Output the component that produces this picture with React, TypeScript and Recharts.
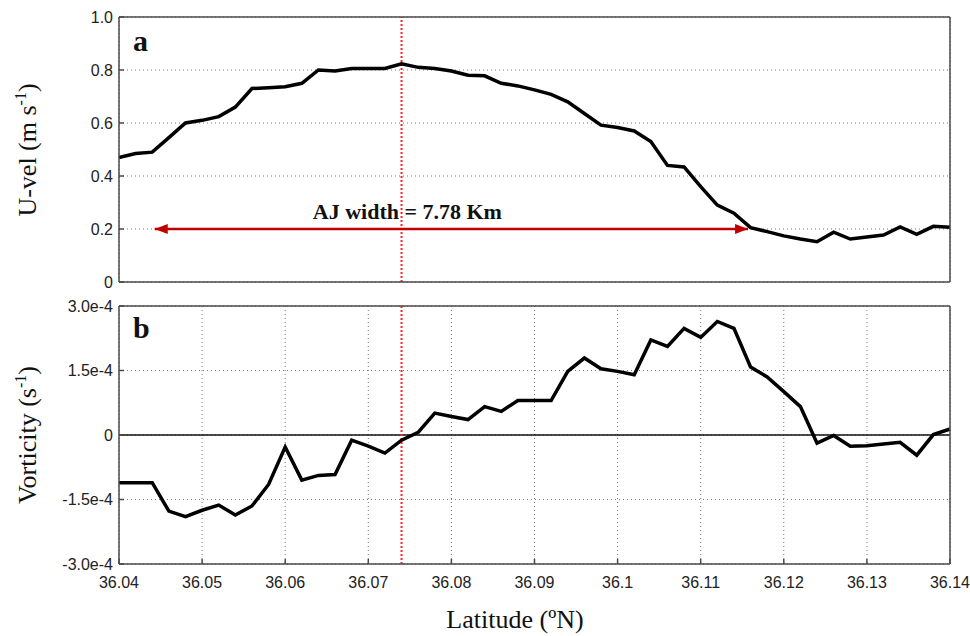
import {
  LineChart,
  Line,
  XAxis,
  YAxis,
  CartesianGrid,
  ReferenceLine,
  ReferenceDot,
} from "recharts";

// latitude (ºN) of each sample
const latitudes = [
  36.04, 36.042, 36.044, 36.046, 36.048, 36.05, 36.052, 36.054, 36.056, 36.058,
  36.06, 36.062, 36.064, 36.066, 36.068, 36.07, 36.072, 36.074, 36.076, 36.078,
  36.08, 36.082, 36.084, 36.086, 36.088, 36.09, 36.092, 36.094, 36.096, 36.098,
  36.1, 36.102, 36.104, 36.106, 36.108, 36.11, 36.112, 36.114, 36.116, 36.118,
  36.12, 36.122, 36.124, 36.126, 36.128, 36.13, 36.132, 36.134, 36.136, 36.138,
  36.14,
];

// U-vel (m/s)
const uVel = [
  0.47, 0.485, 0.49, 0.545, 0.6, 0.61, 0.624, 0.66, 0.73, 0.733,
  0.737, 0.75, 0.8, 0.796, 0.806, 0.806, 0.806, 0.823, 0.81, 0.806,
  0.796, 0.78, 0.778, 0.75, 0.74, 0.725, 0.708, 0.68, 0.636, 0.592,
  0.583, 0.57, 0.53, 0.44, 0.434, 0.36, 0.29, 0.26, 0.205, 0.19,
  0.174, 0.162, 0.152, 0.188, 0.162, 0.17, 0.177, 0.208, 0.18, 0.21,
  0.207,
];

// vorticity, in units of 1e-4 s^-1
const vorticity = [
  -1.11, -1.11, -1.11, -1.77, -1.9, -1.75, -1.63, -1.86, -1.65, -1.15,
  -0.28, -1.05, -0.94, -0.92, -0.12, -0.26, -0.42, -0.12, 0.06, 0.51,
  0.43, 0.36, 0.66, 0.55, 0.8, 0.8, 0.8, 1.48, 1.79, 1.54,
  1.48, 1.4, 2.21, 2.06, 2.48, 2.27, 2.64, 2.48, 1.58, 1.35,
  1.01, 0.66, -0.19, -0.01, -0.26, -0.25, -0.21, -0.17, -0.47, 0.01,
  0.14,
];

const xTicks = [36.04, 36.05, 36.06, 36.07, 36.08, 36.09, 36.1, 36.11, 36.12, 36.13, 36.14];
const uTicks = [0, 0.2, 0.4, 0.6, 0.8, 1.0];
const vortTicks = [-3, -1.5, 0, 1.5, 3];
const vortTickLabels = ["-3.0e-4", "-1.5e-4", "0", "1.5e-4", "3.0e-4"];

// jet core latitude and jet width markers
const jetCoreLat = 36.074;
const jetEdges = [36.0443, 36.1157];
const jetEdgeVel = 0.2;
const jetLabelLat = 36.0747;
const jetLabel = "AJ width = 7.78 Km";

const rows = latitudes.map((lat, i) => ({ lat, u: uVel[i], vort: vorticity[i] }));
const arrowRows = jetEdges.map((lat) => ({ lat, w: jetEdgeVel }));

const W = 970;
const FRAME = "#4a4a4a";
const GRID = "#7a7a7a";
const SANS = "'Liberation Sans', Arial, sans-serif";
const SERIF = "'Liberation Serif', 'Times New Roman', serif";

const tickStyle = { fontSize: 16, fill: "#222", fontFamily: SANS };
const axisLine = { stroke: FRAME, strokeWidth: 1.5 };

const yTitle = (main: string, sup: string, cy: number) => () => (
  <text
    x={36}
    y={cy}
    transform={`rotate(-90, 36, ${cy})`}
    textAnchor="middle"
    fontFamily={SERIF}
    fontSize={26}
    fill="#111"
  >
    {main}
    <tspan dy={-10} fontSize={16}>
      {sup}
    </tspan>
    <tspan dy={10}>)</tspan>
  </text>
);

const panelTag = (letter: string, y: number) => () => (
  <text x={133} y={y} fontFamily={SERIF} fontWeight="bold" fontSize={30} fill="#111">
    {letter}
  </text>
);

const ArrowHead = (props: any) => {
  const { cx, cy, index } = props;
  if (cx == null || cy == null) return null;
  const dir = index === 0 ? 1 : -1;
  return (
    <path
      key={`ah-${index}`}
      d={`M${cx},${cy} L${cx + dir * 13},${cy - 5} L${cx + dir * 13},${cy + 5} Z`}
      fill="#c00000"
      stroke="none"
    />
  );
};

const App = () => {
  return (
    <div style={{ position: "absolute", left: 0, top: 0, width: W, height: 636, background: "#fff" }}>
      {/* panel a */}
      <div style={{ position: "absolute", left: 0, top: 0 }}>
        <LineChart width={W} height={290} data={rows} margin={{ top: 16, right: 19, bottom: 7, left: 10 }}>
          <CartesianGrid stroke={GRID} strokeDasharray="1 3" />
          <XAxis
            dataKey="lat"
            type="number"
            domain={[36.04, 36.14]}
            ticks={xTicks}
            interval={0}
            height={1}
            tick={false}
            tickSize={-5}
            axisLine={axisLine}
            tickLine={axisLine}
          />
          <XAxis
            xAxisId="top"
            orientation="top"
            dataKey="lat"
            type="number"
            domain={[36.04, 36.14]}
            ticks={xTicks}
            interval={0}
            height={1}
            tick={false}
            tickSize={-5}
            axisLine={axisLine}
            tickLine={axisLine}
            label={panelTag("a", 51)}
          />
          <YAxis
            type="number"
            domain={[0, 1]}
            ticks={uTicks}
            interval={0}
            width={109}
            tickSize={-5}
            tickMargin={11}
            tick={tickStyle}
            tickFormatter={(v: number) => (v === 0 ? "0" : v.toFixed(1))}
            axisLine={axisLine}
            tickLine={axisLine}
            label={yTitle("U-vel (m s", "-1", 150)}
          />
          <YAxis
            yAxisId="r"
            orientation="right"
            type="number"
            domain={[0, 1]}
            ticks={uTicks}
            interval={0}
            width={1}
            tick={false}
            tickSize={-5}
            axisLine={axisLine}
            tickLine={axisLine}
          />
          <ReferenceLine x={jetCoreLat} stroke="#ff2020" strokeWidth={2} strokeDasharray="2 2" />
          <Line
            data={arrowRows}
            dataKey="w"
            stroke="#c00000"
            strokeWidth={2.5}
            dot={ArrowHead}
            activeDot={false}
            isAnimationActive={false}
          />
          <ReferenceDot
            x={jetLabelLat}
            y={jetEdgeVel}
            r={0}
            fill="none"
            stroke="none"
            label={{
              value: jetLabel,
              position: "top",
              offset: 10,
              fill: "#111",
              fontSize: 22,
              fontWeight: "bold",
              fontFamily: SERIF,
            }}
          />
          <Line
            dataKey="u"
            stroke="#000"
            strokeWidth={3.5}
            dot={false}
            activeDot={false}
            isAnimationActive={false}
          />
        </LineChart>
      </div>

      {/* panel b */}
      <div style={{ position: "absolute", left: 0, top: 290 }}>
        <LineChart width={W} height={346} data={rows} margin={{ top: 15, right: 19, bottom: 32, left: 10 }}>
          <CartesianGrid stroke={GRID} strokeDasharray="1 3" />
          <XAxis
            dataKey="lat"
            type="number"
            domain={[36.04, 36.14]}
            ticks={xTicks}
            interval={0}
            height={40}
            tickSize={-5}
            tickMargin={18}
            tick={tickStyle}
            axisLine={axisLine}
            tickLine={axisLine}
            label={() => (
              <text x={515} y={338} textAnchor="middle" fontFamily={SERIF} fontSize={26} fill="#111">
                Latitude (ºN)
              </text>
            )}
          />
          <XAxis
            xAxisId="top"
            orientation="top"
            dataKey="lat"
            type="number"
            domain={[36.04, 36.14]}
            ticks={xTicks}
            interval={0}
            height={1}
            tick={false}
            tickSize={-5}
            axisLine={axisLine}
            tickLine={axisLine}
            label={panelTag("b", 48)}
          />
          <YAxis
            type="number"
            domain={[-3, 3]}
            ticks={vortTicks}
            interval={0}
            width={109}
            tickSize={-5}
            tickMargin={11}
            tick={tickStyle}
            tickFormatter={(v: number) => vortTickLabels[vortTicks.indexOf(v)] ?? String(v)}
            axisLine={axisLine}
            tickLine={axisLine}
            label={yTitle("Vorticity (s", "-1", 145)}
          />
          <YAxis
            yAxisId="r"
            orientation="right"
            type="number"
            domain={[-3, 3]}
            ticks={vortTicks}
            interval={0}
            width={1}
            tick={false}
            tickSize={-5}
            axisLine={axisLine}
            tickLine={axisLine}
          />
          <ReferenceLine y={0} stroke="#111" strokeWidth={1.5} />
          <ReferenceLine x={jetCoreLat} stroke="#ff2020" strokeWidth={2} strokeDasharray="2 2" />
          <Line
            dataKey="vort"
            stroke="#000"
            strokeWidth={3.5}
            dot={false}
            activeDot={false}
            isAnimationActive={false}
          />
        </LineChart>
      </div>
    </div>
  );
};

export default App;
